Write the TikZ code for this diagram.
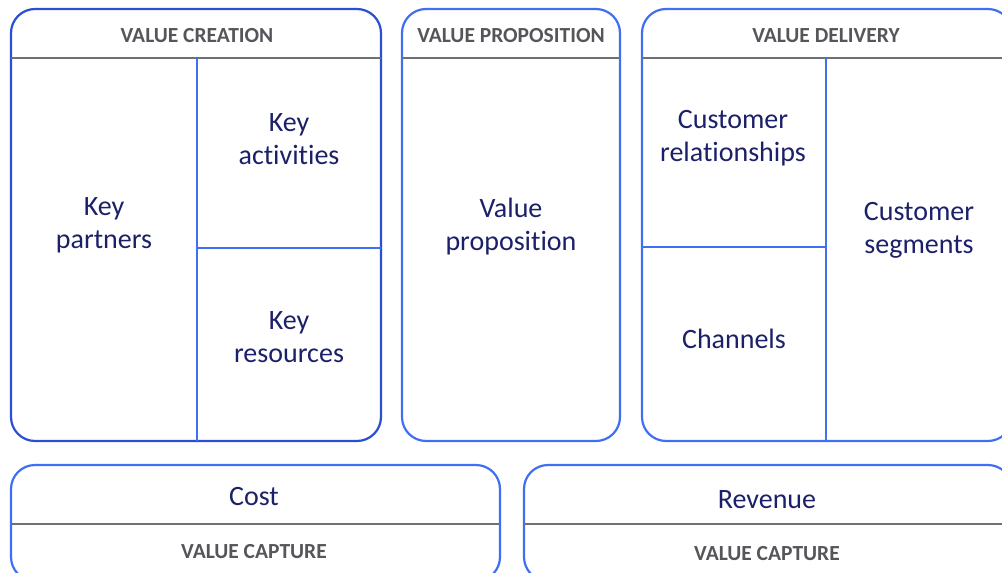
\documentclass[tikz,border=0pt]{standalone}
\usepackage{fontspec}
\setmainfont{Carlito}[Ligatures={NoCommon}]
\definecolor{bordA}{HTML}{2B4FD3}
\definecolor{bordB}{HTML}{3F6FF2}
\definecolor{navy}{HTML}{1B2068}
\definecolor{hdr}{HTML}{55555A}
\definecolor{sep}{HTML}{707074}
\tikzset{
  box/.style={draw=bordB, line width=2.2pt, rounded corners=24pt, inner sep=0pt},
  boxA/.style={box, draw=bordA},
  sepline/.style={draw=sep, line width=2pt},
  divline/.style={draw=bordB, line width=1.6pt},
  hdrtext/.style={text=hdr, font=\bfseries\fontsize{21.5}{24}\selectfont, inner sep=0pt},
  bodytext/.style={text=navy, font=\fontsize{28}{33}\selectfont, align=center, inner sep=0pt},
}
\begin{document}
\begin{tikzpicture}[x=1pt,y=-1pt]
\useasboundingbox (0,0) rectangle (1002,573);
\clip (0,0) rectangle (1002,573);
% boxes
\node[boxA, minimum width=370pt, minimum height=432pt] (vc) at (196,225) {};
\node[box, minimum width=218pt, minimum height=432pt] (vp) at (511,225) {};
\node[box, minimum width=370pt, minimum height=432pt] (vd) at (827,225) {};
\node[box, minimum width=489pt, minimum height=116pt] (cost) at (255.5,523) {};
\node[box, minimum width=488pt, minimum height=116pt] (rev) at (768,523) {};
% header separators
\coordinate (vcL) at (11,58); \coordinate (vcR) at (381,58);
\coordinate (vpL) at (402,58); \coordinate (vpR) at (620,58);
\coordinate (vdL) at (642,58); \coordinate (vdR) at (1012,58);
\draw[sepline] (vcL) -- (vcR);
\draw[sepline] (vpL) -- (vpR);
\draw[sepline] (vdL) -- (vdR);
\coordinate (cL) at (11,524); \coordinate (cR) at (500,524);
\coordinate (rL) at (524,524); \coordinate (rR) at (1012,524);
\draw[sepline] (cL) -- (cR);
\draw[sepline] (rL) -- (rR);
% dividers
\coordinate (d1t) at (197,58); \coordinate (d1b) at (197,441);
\coordinate (h1l) at (197,248); \coordinate (h1r) at (381,248);
\draw[divline] (d1t) -- (d1b);
\draw[divline] (h1l) -- (h1r);
\coordinate (d3t) at (826,58); \coordinate (d3b) at (826,441);
\coordinate (h3l) at (642,247); \coordinate (h3r) at (826,247);
\draw[divline] (d3t) -- (d3b);
\draw[divline] (h3l) -- (h3r);
% header texts
\node[hdrtext] (t1) at (197,36) {VALUE CREATION};
\node[hdrtext] (t2) at (511,36) {VALUE PROPOSITION};
\node[hdrtext] (t3) at (826,36) {VALUE DELIVERY};
\node[hdrtext] (t4) at (254,552) {VALUE CAPTURE};
\node[hdrtext] (t5) at (767,554) {VALUE CAPTURE};
% body texts
\node[bodytext] (kp) at (104,225) {Key\\partners};
\node[bodytext] (ka) at (289,139) {Key\\activities};
\node[bodytext] (kr) at (289,337) {Key\\resources};
\node[bodytext] (vpt) at (511,227) {Value\\proposition};
\node[bodytext] (cr) at (733,138) {Customer\\relationships};
\node[bodytext] (ch) at (734,339) {Channels};
\node[bodytext] (cs) at (919,230) {Customer\\segments};
\node[bodytext] (co) at (254,497) {Cost};
\node[bodytext] (re) at (767,500) {Revenue};
\end{tikzpicture}
\end{document}
